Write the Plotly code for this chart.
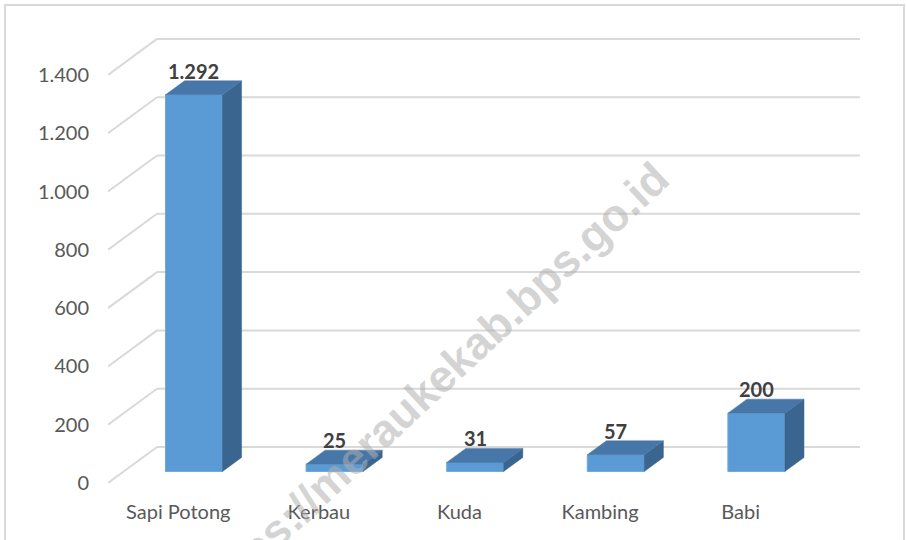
import plotly.graph_objects as go

categories = ["Sapi Potong", "Kerbau", "Kuda", "Kambing", "Babi"]
values = [1292, 25, 31, 57, 200]
value_labels = ["1.292", "25", "31", "57", "200"]
y_ticks = [0, 200, 400, 600, 800, 1000, 1200, 1400]

# figure geometry (pixels)
W, H = 906, 540
L, R, T, B = 108, 39, 20, 50
cat_px = 140.6          # pixels per category
val_px = 0.2915         # pixels per value unit
zero_px = 483           # pixel row of value 0 on the front plane

plot_w = W - L - R
plot_h = H - T - B
x_range = [-0.5, -0.5 + plot_w / cat_px]
y_range = [-(H - B - zero_px) / val_px, (zero_px - T) / val_px]

# oblique depth (in data units)
DX = 49 / cat_px
DY = 36 / val_px
f0, f1 = 0.32, 0.71     # bar front / back depth fraction
BW = 57 / cat_px        # bar width

front_col = "#5B9BD5"
top_col = "#4677A8"
side_col = "#3A658F"
grid_col = "#D9D9D9"

fig = go.Figure()

# back wall gridlines with slanted connectors (drawn below the bars)
for v in y_ticks:
    fig.add_shape(type="line", xref="x", yref="y", layer="below",
                  x0=-0.5, y0=v, x1=-0.5 + DX, y1=v + DY,
                  line=dict(color=grid_col, width=2))
    fig.add_shape(type="line", xref="x", yref="y", layer="below",
                  x0=-0.5 + DX, y0=v + DY, x1=4.5 + DX, y1=v + DY,
                  line=dict(color=grid_col, width=2))

# bars: side and top faces
for i, v in enumerate(values):
    cx = i + f0 * DX
    y0 = f0 * DY
    xl, xr = cx - BW / 2, cx + BW / 2
    ddx, ddy = (f1 - f0) * DX, (f1 - f0) * DY
    fig.add_trace(go.Scatter(
        x=[xr, xr, xr + ddx, xr + ddx, xr],
        y=[y0, y0 + v, y0 + v + ddy, y0 + ddy, y0],
        mode="lines", fill="toself", fillcolor=side_col,
        line=dict(color=side_col, width=0.5),
        hoverinfo="skip", showlegend=False))
    fig.add_trace(go.Scatter(
        x=[xl, xr, xr + ddx, xl + ddx, xl],
        y=[y0 + v, y0 + v, y0 + v + ddy, y0 + v + ddy, y0 + v],
        mode="lines", fill="toself", fillcolor=top_col,
        line=dict(color=top_col, width=0.5),
        hoverinfo="skip", showlegend=False))

# front faces as real bars
fig.add_trace(go.Bar(
    x=[i + f0 * DX for i in range(len(values))],
    y=values,
    base=[f0 * DY] * len(values),
    width=BW,
    marker=dict(color=front_col, line=dict(color="#6FA8DC", width=1)),
    showlegend=False, hoverinfo="skip"))

# data labels
for i, (v, t) in enumerate(zip(values, value_labels)):
    fig.add_annotation(x=i + f0 * DX, y=v + f1 * DY, text="<b>%s</b>" % t,
                       showarrow=False, yanchor="bottom", yshift=-4,
                       font=dict(family="Lato", size=20, color="#404040"))

# watermark
fig.add_annotation(xref="paper", yref="paper",
                   x=(432 - L) / plot_w, y=1 - (384 - T) / plot_h,
                   xanchor="center", yanchor="middle",
                   text="<b>https://meraukekab.bps.go.id</b>",
                   textangle=-43, showarrow=False,
                   font=dict(family="Liberation Sans", size=45,
                             color="rgba(175,175,175,0.55)"))

# outer border
fig.add_shape(type="rect", xref="paper", yref="paper",
              x0=(5 - L) / plot_w, x1=(904 - L) / plot_w,
              y0=1 - (560 - T) / plot_h, y1=1 - (5 - T) / plot_h,
              line=dict(color="#D9D9D9", width=2), layer="below")

fig.update_layout(
    width=W, height=H,
    margin=dict(l=L, r=R, t=T, b=B, pad=0),
    plot_bgcolor="white", paper_bgcolor="white",
    separators=",.",
    barmode="overlay",
    font=dict(family="Lato", size=20, color="#595959"),
    xaxis=dict(range=x_range, tickvals=list(range(len(categories))),
               ticktext=categories, showgrid=False, zeroline=False,
               showline=False, ticks="", ticklabelstandoff=8, fixedrange=True),
    yaxis=dict(range=y_range, tickvals=y_ticks, tickformat=",d",
               showgrid=False, zeroline=False, showline=False, ticks="",
               ticklabelstandoff=18, fixedrange=True),
)

fig.write_html("out.html", config={"displayModeBar": False},
               post_script="document.body.style.margin='0';")
